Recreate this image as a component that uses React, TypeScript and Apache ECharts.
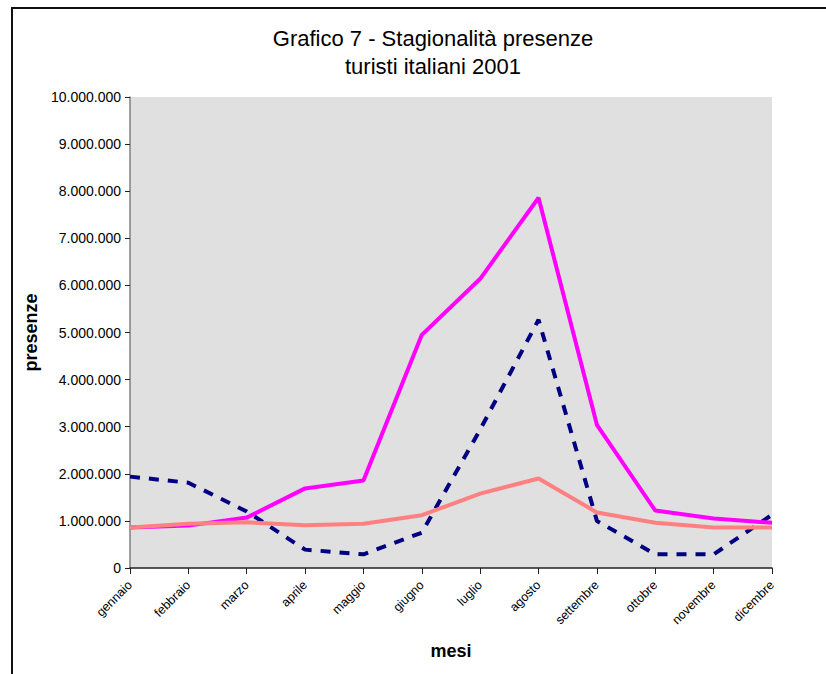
import React, { useEffect, useRef } from "react";
import * as echarts from "echarts";

const months = [
  "gennaio", "febbraio", "marzo", "aprile", "maggio", "giugno",
  "luglio", "agosto", "settembre", "ottobre", "novembre", "dicembre",
];
const seriesDashed = [1940000, 1810000, 1200000, 390000, 290000, 750000, 2940000, 5270000, 1000000, 290000, 290000, 1130000];
const seriesMagenta = [860000, 900000, 1070000, 1690000, 1860000, 4950000, 6140000, 7860000, 3040000, 1220000, 1050000, 960000];
const seriesSalmon = [860000, 940000, 970000, 910000, 940000, 1120000, 1580000, 1900000, 1180000, 960000, 860000, 860000];
const yTicks = { min: 0, max: 10000000, interval: 1000000 };
const titleLines = ["Grafico 7 - Stagionalità presenze", "turisti italiani 2001"];

const fmt = (v: number) => String(Math.round(v)).replace(/\B(?=(\d{3})+(?!\d))/g, ".");

export default function App() {
  const ref = useRef<HTMLDivElement>(null);
  useEffect(() => {
    if (!ref.current) return;
    const chart = echarts.init(ref.current, null, { renderer: "svg" });
    const font = "'Liberation Sans', Arial, sans-serif";
    chart.setOption({
      animation: false,
      backgroundColor: "#ffffff",
      textStyle: { fontFamily: font },
      graphic: [
        {
          type: "rect",
          shape: { x: 12, y: 8, width: 900, height: 800 },
          style: { fill: "none", stroke: "#111", lineWidth: 2 },
          z: -10,
        },
        {
          type: "text",
          x: 433,
          y: 24,
          style: {
            text: titleLines.join("\n"),
            font: `22px ${font}`,
            fill: "#000",
            textAlign: "center",
            textVerticalAlign: "top",
            lineHeight: 28,
          },
        },
      ],
      grid: {
        left: 130,
        right: 54,
        top: 97,
        bottom: 106,
        show: true,
        backgroundColor: "#e0e0e0",
        borderWidth: 0,
      },
      xAxis: {
        type: "category",
        data: months,
        boundaryGap: false,
        name: "mesi",
        nameLocation: "middle",
        nameGap: 74,
        nameTextStyle: { fontWeight: "bold", fontSize: 18, color: "#000", fontFamily: font },
        axisLine: { lineStyle: { color: "#222", width: 1.5 } },
        axisTick: { show: true, length: 6, lineStyle: { color: "#222" } },
        axisLabel: { rotate: 45, fontSize: 12.5, color: "#000", margin: 15, interval: 0, fontFamily: font },
        splitLine: { show: false },
      },
      yAxis: {
        type: "value",
        min: yTicks.min,
        max: yTicks.max,
        interval: yTicks.interval,
        name: "presenze",
        nameLocation: "middle",
        nameGap: 86,
        nameTextStyle: { fontWeight: "bold", fontSize: 18, color: "#000", fontFamily: font },
        axisLine: { show: true, lineStyle: { color: "#808080", width: 1.5 } },
        axisTick: { show: true, length: 5, lineStyle: { color: "#222" } },
        axisLabel: { fontSize: 14, color: "#000", margin: 9, formatter: fmt, fontFamily: font },
        splitLine: { show: false },
      },
      series: [
        {
          name: "dashed",
          type: "line",
          data: seriesDashed,
          symbol: "none",
          lineStyle: { color: "#000080", width: 4, type: [10, 9] },
          z: 2,
        },
        {
          name: "magenta",
          type: "line",
          data: seriesMagenta,
          symbol: "none",
          lineStyle: { color: "#ff00ff", width: 4 },
          z: 3,
        },
        {
          name: "salmon",
          type: "line",
          data: seriesSalmon,
          symbol: "none",
          lineStyle: { color: "#ff8080", width: 4 },
          z: 4,
        },
      ],
    });
    return () => chart.dispose();
  }, []);
  return (
    <div
      ref={ref}
      style={{ position: "absolute", left: 0, top: 0, width: 826, height: 674 }}
    />
  );
}
